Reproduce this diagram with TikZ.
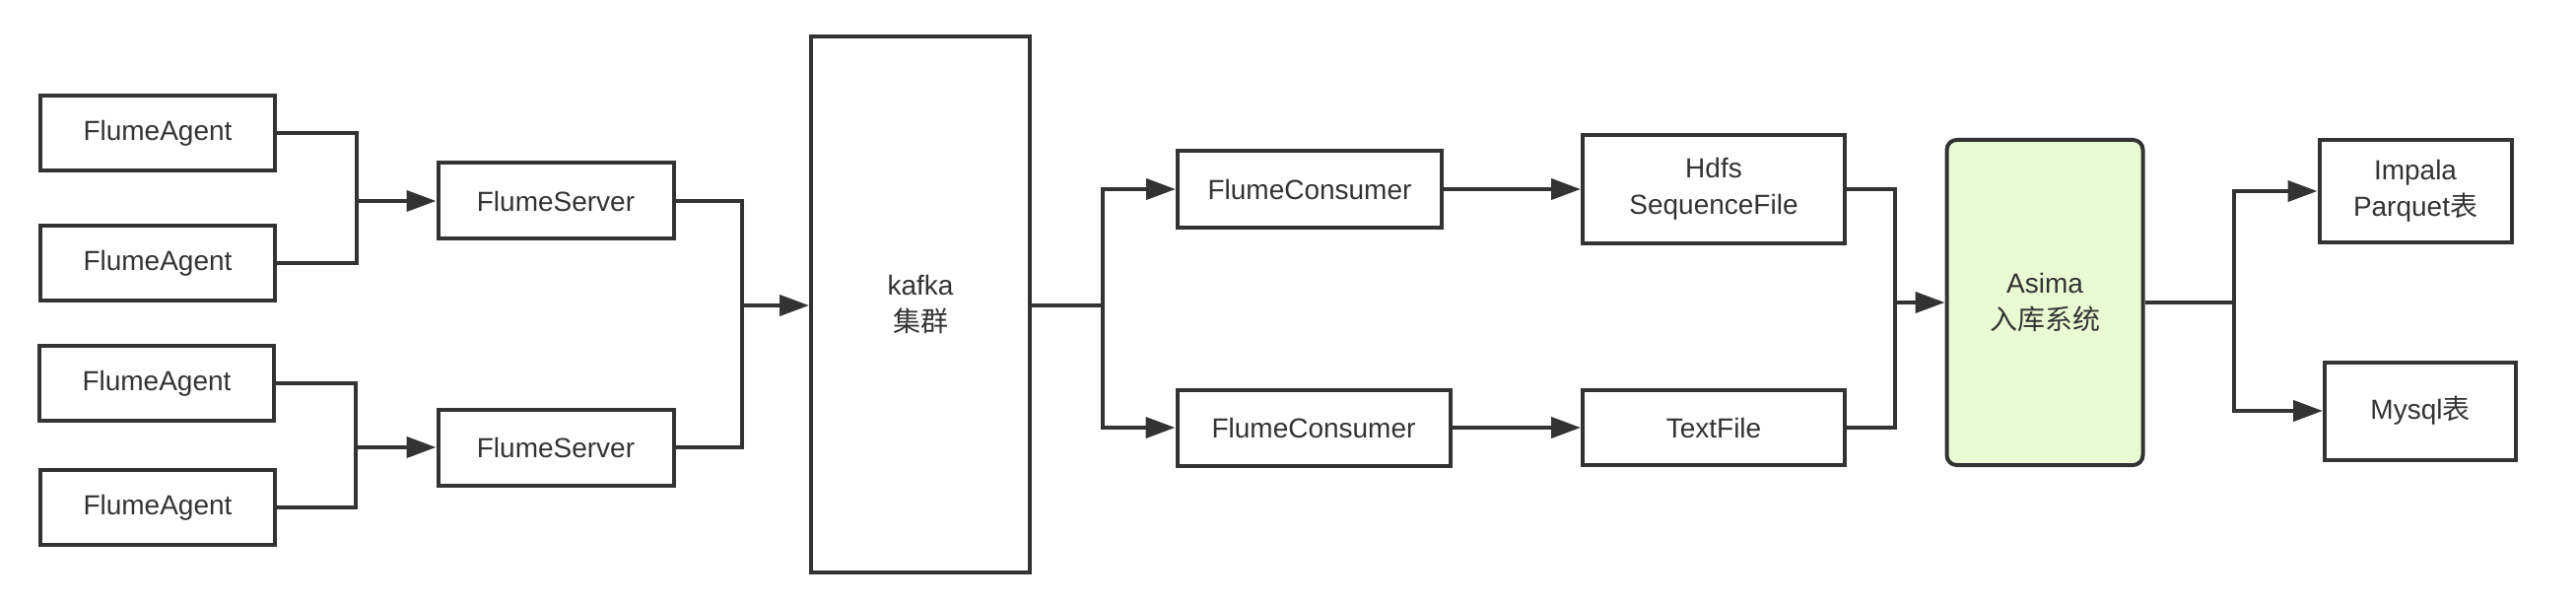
\documentclass[tikz,border=0pt]{standalone}
\usepackage{fontspec}
\setmainfont{Liberation Sans}
\newfontfamily\cjk{Noto Sans CJK SC}
\usetikzlibrary{arrows.meta}
\definecolor{linegray}{HTML}{333333}
\definecolor{asimagreen}{HTML}{E9FBD3}
\tikzset{
    box/.style={draw=linegray, line width=4pt, align=center, inner sep=0pt,
        font=\fontsize{28}{37}\selectfont, text=linegray},
    link/.style={draw=linegray, line width=4pt},
    flow/.style={link, -{Triangle[length=30pt,width=21pt]}}
}
\begin{document}
\begin{tikzpicture}[x=1pt, y=-1pt]
    \useasboundingbox (0, 0) rectangle (2614, 612);

    % sources
    \node[box, minimum width=238pt, minimum height=76pt] (agentA) at (160, 135) {FlumeAgent};
    \node[box, minimum width=238pt, minimum height=76pt] (agentB) at (160, 267) {FlumeAgent};
    \node[box, minimum width=238pt, minimum height=76pt] (agentC) at (159, 389) {FlumeAgent};
    \node[box, minimum width=238pt, minimum height=76pt] (agentD) at (160, 515) {FlumeAgent};
    \node[box, minimum width=239pt, minimum height=77pt] (serverA) at (564, 204) {FlumeServer};
    \node[box, minimum width=239pt, minimum height=77pt] (serverB) at (564, 454) {FlumeServer};

    % kafka
    \node[box, minimum width=222pt, minimum height=544pt] (kafka) at (934, 309) {kafka\\{\cjk 集群}};

    % consumers and files
    \node[box, minimum width=268pt, minimum height=78pt] (consumerA) at (1329, 192) {FlumeConsumer};
    \node[box, minimum width=277pt, minimum height=77pt] (consumerB) at (1333, 434) {FlumeConsumer};
    \node[box, minimum width=266pt, minimum height=110pt] (hdfs) at (1739, 192) {Hdfs\\SequenceFile};
    \node[box, minimum width=266pt, minimum height=76pt] (textfile) at (1739, 434) {TextFile};

    % asima and targets
    \node[box, fill=asimagreen, rounded corners=10pt, minimum width=199pt, minimum height=330pt] (asima) at (2075, 307) {Asima\\{\cjk 入库系统}};
    \node[box, minimum width=195pt, minimum height=104pt] (impala) at (2451, 194) {Impala\\Parquet{\cjk 表}};
    \node[box, minimum width=194pt, minimum height=99pt] (mysql) at (2456, 417) {Mysql{\cjk 表}};

    % junctions
    \coordinate (joinA) at (362, 204);
    \coordinate (joinB) at (361, 454);
    \coordinate (joinK) at (753, 310);
    \coordinate (splitK) at (1119, 310);
    \coordinate (joinF) at (1923, 307);
    \coordinate (splitT) at (2267, 307);

    \draw[link] (agentA.east) -| (joinA);
    \draw[link] (agentB.east) -| (joinA);
    \draw[flow] (joinA) -- (serverA.west);
    \draw[link] (agentC.east) -| (joinB);
    \draw[link] (agentD.east) -| (joinB);
    \draw[flow] (joinB) -- (serverB.west);

    \draw[link] (serverA.east) -| (joinK);
    \draw[link] (serverB.east) -| (joinK);
    \draw[flow] (joinK) -- (kafka.west |- joinK);

    \draw[link] (kafka.east |- splitK) -- (splitK);
    \draw[flow] (splitK) |- (consumerA.west);
    \draw[flow] (splitK) |- (consumerB.west);
    \draw[flow] (consumerA.east) -- (hdfs.west);
    \draw[flow] (consumerB.east) -- (textfile.west);

    \draw[link] (hdfs.east) -| (joinF);
    \draw[link] (textfile.east) -| (joinF);
    \draw[flow] (joinF) -- (asima.west);

    \draw[link] (asima.east) -- (splitT);
    \draw[flow] (splitT) |- (impala.west);
    \draw[flow] (splitT) |- (mysql.west);

\end{tikzpicture}
\end{document}
